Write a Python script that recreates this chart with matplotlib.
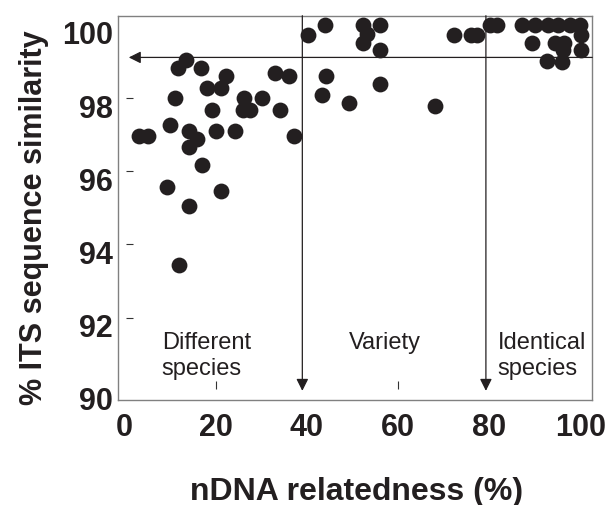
import matplotlib
matplotlib.use("Agg")
import matplotlib.pyplot as plt
import matplotlib.transforms as mtrans
from matplotlib.path import Path
from matplotlib.markers import MarkerStyle

plt.rcParams['font.family'] = ['Liberation Sans', 'DejaVu Sans']

# nDNA relatedness (%) and ITS similarity (%)
relatedness = [3.3, 5.2, 9.3, 10.1, 11.2, 11.7, 12.0, 13.5, 14.2, 14.2, 14.2, 16.0,
               16.9, 17.1, 18.2, 19.3, 20.2, 21.3, 21.3, 22.2, 24.2, 25.9, 26.2, 27.5,
               30.1, 33.1, 34.1, 36.1, 37.2,
               40.3, 43.9, 44.2, 43.2, 49.3, 52.2, 53.1, 52.2, 56.1, 56.1, 56.1, 68.0,
               72.2, 75.9, 77.2,
               80.1, 81.6, 87.2, 89.9, 92.9, 95.0, 97.6, 99.8, 100.0, 89.2, 94.3, 96.3,
               96.1, 100.0, 92.5, 95.8]
its_similarity = [96.97, 96.97, 95.56, 97.27, 98.0, 98.82, 93.45, 99.05, 97.09, 96.66, 95.06, 96.88,
                  98.82, 96.18, 98.28, 97.68, 97.09, 98.27, 95.47, 98.60, 97.09, 97.68, 98.0, 97.68,
                  98.0, 98.69, 97.68, 98.60, 96.97,
                  99.71, 100.0, 98.59, 98.09, 97.87, 100.0, 99.75, 99.5, 100.0, 99.30, 98.39, 97.78,
                  99.71, 99.71, 99.71,
                  100.0, 100.0, 100.0, 100.0, 100.0, 100.0, 100.0, 100.0, 99.71, 99.5, 99.5, 99.5,
                  99.30, 99.30, 99.02, 98.98]

x_ticks = [0, 20, 40, 60, 80, 100]
y_ticks = [90, 92, 94, 96, 98, 100]
x_minor = [20, 60]
y_minor = [92, 94, 96, 98]

threshold_variety = 39.0
threshold_identical = 79.2
threshold_its = 99.11

region_labels = ["Different\nspecies", "Variety", "Identical\nspecies"]
region_x = [8.2, 49.2, 81.8]

ink = '#231f20'

fig = plt.figure(figsize=(6.11, 5.06), dpi=100)
ax = fig.add_axes([0.1936, 0.2075, 0.7758, 0.7595])
ax.set_xlim(-1.3, 102.5)
ax.set_ylim(89.75, 100.25)

ax.scatter(relatedness, its_similarity, s=130, color=ink, linewidths=0, zorder=3)

arrow = dict(arrowstyle='-|>', color=ink, lw=0.9, shrinkA=0, shrinkB=0, mutation_scale=18)
ax.annotate('', xy=(threshold_variety, 90), xytext=(threshold_variety, 100.25), arrowprops=arrow)
ax.annotate('', xy=(threshold_identical, 90), xytext=(threshold_identical, 100.25), arrowprops=arrow)
ax.annotate('', xy=(1.0, threshold_its), xytext=(102.5, threshold_its), arrowprops=arrow)

for lab, xv in zip(region_labels, region_x):
    ax.text(xv, 91.63, lab, fontsize=17, color=ink, ha='left', va='top')

for sp in ax.spines.values():
    sp.set_color('#808080')
    sp.set_linewidth(1.0)

ax.xaxis.remove_overlapping_locs = False
ax.yaxis.remove_overlapping_locs = False
ax.set_xticks(x_ticks)
ax.set_yticks(y_ticks)
ax.set_xticks(x_minor, minor=True)
ax.set_yticks(y_minor, minor=True)
ax.tick_params(which='major', length=0, labelsize=22, labelcolor=ink)
ax.tick_params(axis='x', which='major', pad=8.6)
ax.tick_params(axis='y', which='major', pad=4)
ax.tick_params(which='minor', direction='in', color='#333333', width=0.8)
ax.tick_params(axis='x', which='minor', length=27.4)
ax.tick_params(axis='y', which='minor', length=21.6)
for lab in ax.get_xticklabels() + ax.get_yticklabels():
    lab.set_fontweight('bold')

xmark = MarkerStyle(Path([[0, 0.58], [0, 1.0]]))
ymark = MarkerStyle(Path([[0.56, 0], [1.0, 0]]))
for t in ax.xaxis.get_minor_ticks():
    t.tick1line.set_marker(xmark)
for t in ax.yaxis.get_minor_ticks():
    t.tick1line.set_marker(ymark)

off = mtrans.ScaledTranslation(0, -0.07, fig.dpi_scale_trans)
for lab in ax.get_yticklabels():
    lab.set_transform(lab.get_transform() + off)

ax.set_xlabel('nDNA relatedness (%)', fontsize=23, fontweight='bold', color=ink)
ax.set_ylabel('% ITS sequence similarity', fontsize=22, fontweight='bold', color=ink)
ax.xaxis.set_label_coords(0.5025, -0.198)
ax.yaxis.set_label_coords(-0.147, 0.476)

fig.savefig('out.png', dpi=100)
